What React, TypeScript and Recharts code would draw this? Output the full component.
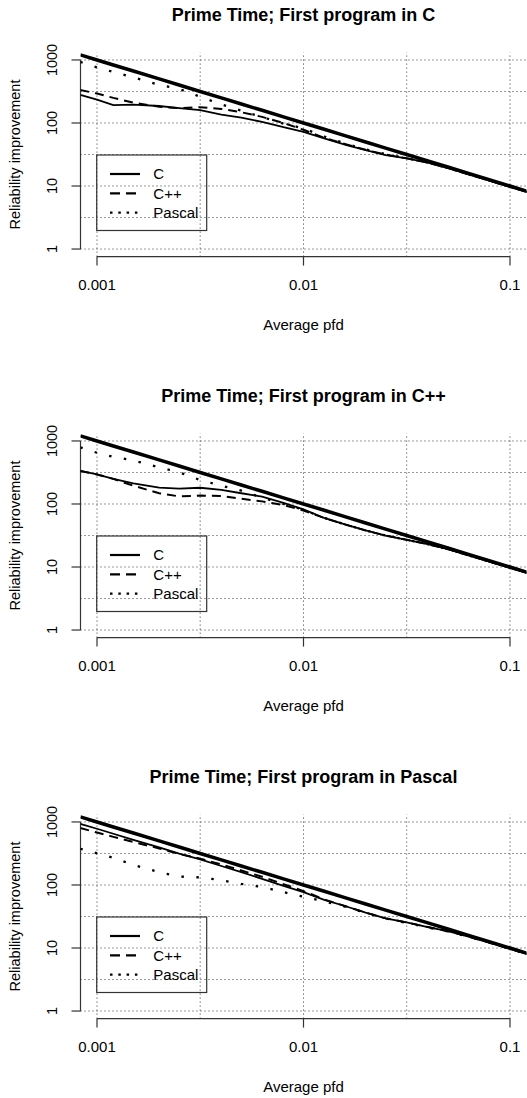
import React from "react";
import { LineChart, Line, XAxis, YAxis, ReferenceLine } from "recharts";

const FONT = "'Liberation Sans', Arial, Helvetica, sans-serif";

// average pfd, shared by every curve
const PFD = [0.00083, 0.001, 0.0012, 0.0015, 0.002, 0.0025, 0.00316, 0.004, 0.005, 0.0063, 0.008, 0.01,
  0.0126, 0.016, 0.02, 0.025, 0.0316, 0.04, 0.05, 0.063, 0.08, 0.1, 0.121];

// heavy reference line
const BOUND = [1205, 1000, 833, 667, 500, 400, 316, 250, 200, 159, 125, 100,
  79.4, 62.5, 50, 40, 31.6, 25, 20, 15.9, 12.5, 10, 8.26];

// First program in C
const FIRST_C_C = [280, 235, 192, 196, 186, 172, 160, 136, 122, 104, 86, 72, 57, 45, 37, 31, 27.5, 23.5, 19.3, 15.3, 12.1, 9.7, 8.1];
const FIRST_C_CPP = [334, 293, 250, 210, 181, 172, 178, 167, 148, 125, 100, 78, 58, 46, 37.5, 31.5, 27.5, 23.5, 19.3, 15.3, 12.1, 9.7, 8.1];
const FIRST_C_PASCAL = [930, 760, 645, 530, 401, 348, 260, 197, 157, 124, 98, 82, 61, 47, 38, 32, 27.5, 23.5, 19.3, 15.3, 12.1, 9.7, 8.1];

// First program in C++
const FIRST_CPP_C = [334, 294, 250, 213, 182, 175, 181, 168, 148, 131, 104, 82, 60, 47, 38, 31.5, 27, 23, 19.2, 15.3, 12.1, 9.7, 8.1];
const FIRST_CPP_CPP = [334, 294, 250, 195, 148, 132, 136, 134, 121, 110, 96, 79, 60, 47, 38, 31.5, 27, 23, 19.2, 15.3, 12.1, 9.7, 8.1];
const FIRST_CPP_PASCAL = [790, 650, 560, 490, 382, 318, 240, 195, 163, 126, 100, 81, 60, 47, 38, 31.5, 27, 23, 19.2, 15.3, 12.1, 9.7, 8.1];

// First program in Pascal
const FIRST_PAS_C = [930, 780, 650, 520, 395, 315, 255, 200, 160, 125, 97, 77, 58, 46, 36.5, 29.5, 25.5, 21.5, 18.5, 15.2, 12.1, 9.7, 8.1];
const FIRST_PAS_CPP = [800, 680, 580, 480, 380, 310, 262, 212, 170, 135, 103, 80, 59, 46, 36.5, 29.5, 25.5, 21.5, 18.5, 15.2, 12.1, 9.7, 8.1];
const FIRST_PAS_PASCAL = [375, 318, 270, 208, 160, 136, 132, 119, 104, 93, 77, 65, 55, 45, 36, 29.5, 25, 21.2, 18.3, 15.1, 12.1, 9.7, 8.1];

const X_TICKS = [0.001, 0.01, 0.1];
const X_GRID = [0.001, 0.00316, 0.01, 0.0316, 0.1];
const Y_TICKS = [1, 10, 100, 1000];
const Y_GRID = [1, 3.16, 10, 31.6, 100, 316, 1000];
const LEGEND = ["C", "C++", "Pascal"];

const X_MIN = 0.000832;
const X_MAX = 0.1202;
const Y_MIN = 0.7586;
const Y_MAX = 1318;

const panels = [
  { title: "Prime Time; First program in C", c: FIRST_C_C, cpp: FIRST_C_CPP, pascal: FIRST_C_PASCAL },
  { title: "Prime Time; First program in C++", c: FIRST_CPP_C, cpp: FIRST_CPP_CPP, pascal: FIRST_CPP_PASCAL },
  { title: "Prime Time; First program in Pascal", c: FIRST_PAS_C, cpp: FIRST_PAS_CPP, pascal: FIRST_PAS_PASCAL },
];

const DASH = "9 6";
const DOT = "2.5 12.5";
const GRID_COL = "#333";

function YTick(props: any) {
  const { y, payload } = props;
  return (
    <text transform={`translate(57, ${y}) rotate(-90)`} textAnchor="middle" fontSize={14.5} fontFamily={FONT} fill="#000">
      {payload.value}
    </text>
  );
}

function Panel({ title, c, cpp, pascal, height }: any) {
  const data = PFD.map((p, i) => ({ pfd: p, bound: BOUND[i], c: c[i], cpp: cpp[i], pascal: pascal[i] }));
  const legendY = [174, 193.3, 212.7];
  const styles = [undefined, "10 6", "2.5 5.8"];
  return (
    <div style={{ position: "relative", width: 527, height }}>
      <LineChart width={527} height={height} data={data} margin={{ top: 52.4, right: 0.5, left: 0, bottom: 0 }}>
        <XAxis
          dataKey="pfd"
          type="number"
          scale="log"
          domain={[X_MIN, X_MAX]}
          allowDataOverflow
          ticks={X_TICKS}
          tickFormatter={(v: number) => String(v)}
          axisLine={false}
          tickLine={{ stroke: "#333", strokeWidth: 1.2 }}
          tickSize={9}
          tickMargin={14}
          height={height - 256.6}
          tick={{ fill: "#000", fontSize: 15, fontFamily: FONT }}
        />
        <YAxis
          type="number"
          scale="log"
          domain={[Y_MIN, Y_MAX]}
          allowDataOverflow
          ticks={Y_TICKS}
          axisLine={false}
          tickLine={{ stroke: "#333", strokeWidth: 1.2 }}
          tickSize={9}
          width={80.5}
          tick={<YTick />}
        />
        {Y_GRID.map((v) => (
          <ReferenceLine key={"h" + v} y={v} stroke={GRID_COL} strokeDasharray="1 3" />
        ))}
        {X_GRID.map((v) => (
          <ReferenceLine key={"v" + v} x={v} stroke={GRID_COL} strokeDasharray="1 3" />
        ))}
        <ReferenceLine segment={[{ x: X_MIN, y: 1 }, { x: X_MIN, y: 1000 }]} stroke="#333" strokeWidth={1.2} ifOverflow="visible" />
        <ReferenceLine segment={[{ x: 0.001, y: Y_MIN }, { x: 0.1, y: Y_MIN }]} stroke="#333" strokeWidth={1.2} ifOverflow="visible" />
        <Line dataKey="bound" stroke="#000" strokeWidth={3.5} dot={false} isAnimationActive={false} />
        <Line dataKey="c" stroke="#000" strokeWidth={1.8} dot={false} isAnimationActive={false} />
        <Line dataKey="cpp" stroke="#000" strokeWidth={2} strokeDasharray={DASH} dot={false} isAnimationActive={false} />
        <Line dataKey="pascal" stroke="#000" strokeWidth={2.3} strokeDasharray={DOT} dot={false} isAnimationActive={false} />
      </LineChart>
      <svg width={527} height={height} style={{ position: "absolute", left: 0, top: 0, pointerEvents: "none" }}>
        <text x={303.5} y={20.7} textAnchor="middle" fontSize={18} fontWeight="bold" fontFamily={FONT} fill="#000">
          {title}
        </text>
        <text transform="translate(19.5, 154.5) rotate(-90)" textAnchor="middle" fontSize={14.5} fontFamily={FONT} fill="#000">
          Reliability improvement
        </text>
        <text x={303.5} y={330.4} textAnchor="middle" fontSize={15} fontFamily={FONT} fill="#000">
          Average pfd
        </text>
        <rect x={96.7} y={155} width={110} height={75.5} fill="none" stroke="#333" strokeWidth={1.2} />
        {LEGEND.map((name, i) => (
          <g key={name}>
            <line x1={110} x2={140} y1={legendY[i]} y2={legendY[i]} stroke="#000" strokeWidth={i === 2 ? 2.3 : 2.2} strokeDasharray={styles[i]} />
            <text x={153.3} y={legendY[i] + 5.4} fontSize={15} fontFamily={FONT} fill="#000">
              {name}
            </text>
          </g>
        ))}
      </svg>
    </div>
  );
}

export default function App() {
  return (
    <div style={{ position: "absolute", left: 0, top: 0, width: 527, height: 1098, overflow: "hidden", background: "#fff" }}>
      {panels.map((p, i) => (
        <div key={p.title} style={{ position: "absolute", left: 0, top: i * 381 }}>
          <Panel title={p.title} c={p.c} cpp={p.cpp} pascal={p.pascal} height={i === 2 ? 336 : 381} />
        </div>
      ))}
    </div>
  );
}
